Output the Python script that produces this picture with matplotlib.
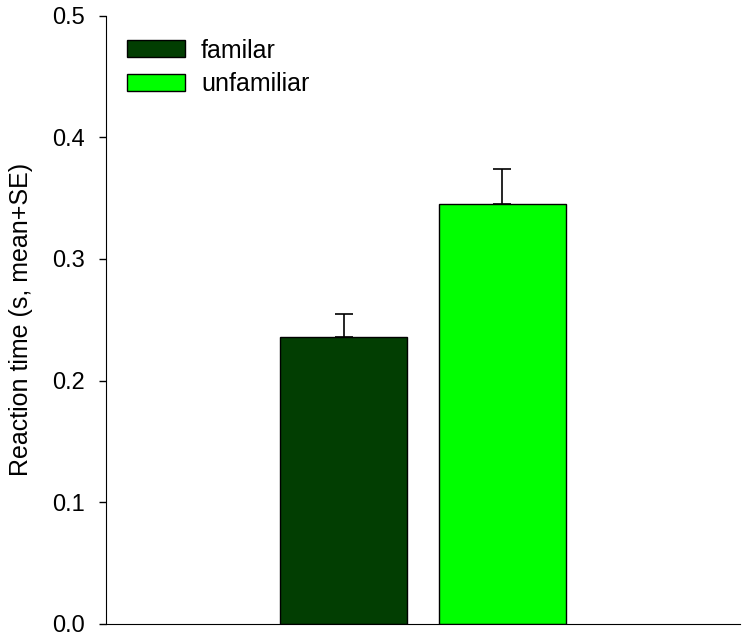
import numpy as np
from matplotlib import pyplot as plt
from matplotlib.patches import Patch

plt.rcParams['font.family'] = ['Liberation Sans', 'DejaVu Sans']

groups = ['familar', 'unfamiliar']
means = [0.236, 0.345]
se = [0.0185, 0.029]
colors = ['#023e02', '#00ff00']
yticks = [0.0, 0.1, 0.2, 0.3, 0.4, 0.5]


def plot_reaction():
    fig = plt.figure(figsize=(7.5, 6.4), dpi=100)
    ax = fig.add_axes([0.1413, 0.025, 0.8453, 0.9507])

    x = np.arange(len(groups))
    ax.bar(x, means, width=0.8, color=colors, edgecolor='black', linewidth=1.0, zorder=2)
    ax.errorbar(x, means, yerr=[np.zeros(len(se)), se], fmt='none', ecolor='black',
                elinewidth=1.2, capsize=6.5, capthick=1.2, zorder=1)

    ax.set_xlim(-1.5, 2.5)
    ax.set_ylim(0, 0.5)
    ax.set_yticks(yticks)
    ax.set_yticklabels([f'{t:.1f}' for t in yticks], fontsize=17)
    ax.set_xticks([])
    ax.tick_params(axis='y', direction='out', length=5, width=1, pad=10)
    ax.spines['top'].set_visible(False)
    ax.spines['right'].set_visible(False)
    ax.set_ylabel('Reaction time (s, mean+SE)', fontsize=18, labelpad=14)

    handles = [Patch(facecolor=c, edgecolor='black', label=g) for g, c in zip(groups, colors)]
    ax.legend(handles=handles, loc='upper left', bbox_to_anchor=(0.033, 0.962), frameon=False,
              borderaxespad=0, borderpad=0, fontsize=18, handlelength=2.32, handleheight=0.68,
              handletextpad=0.64, labelspacing=0.37)

    plt.savefig('out.png', dpi=100)
    plt.close()


plot_reaction()
